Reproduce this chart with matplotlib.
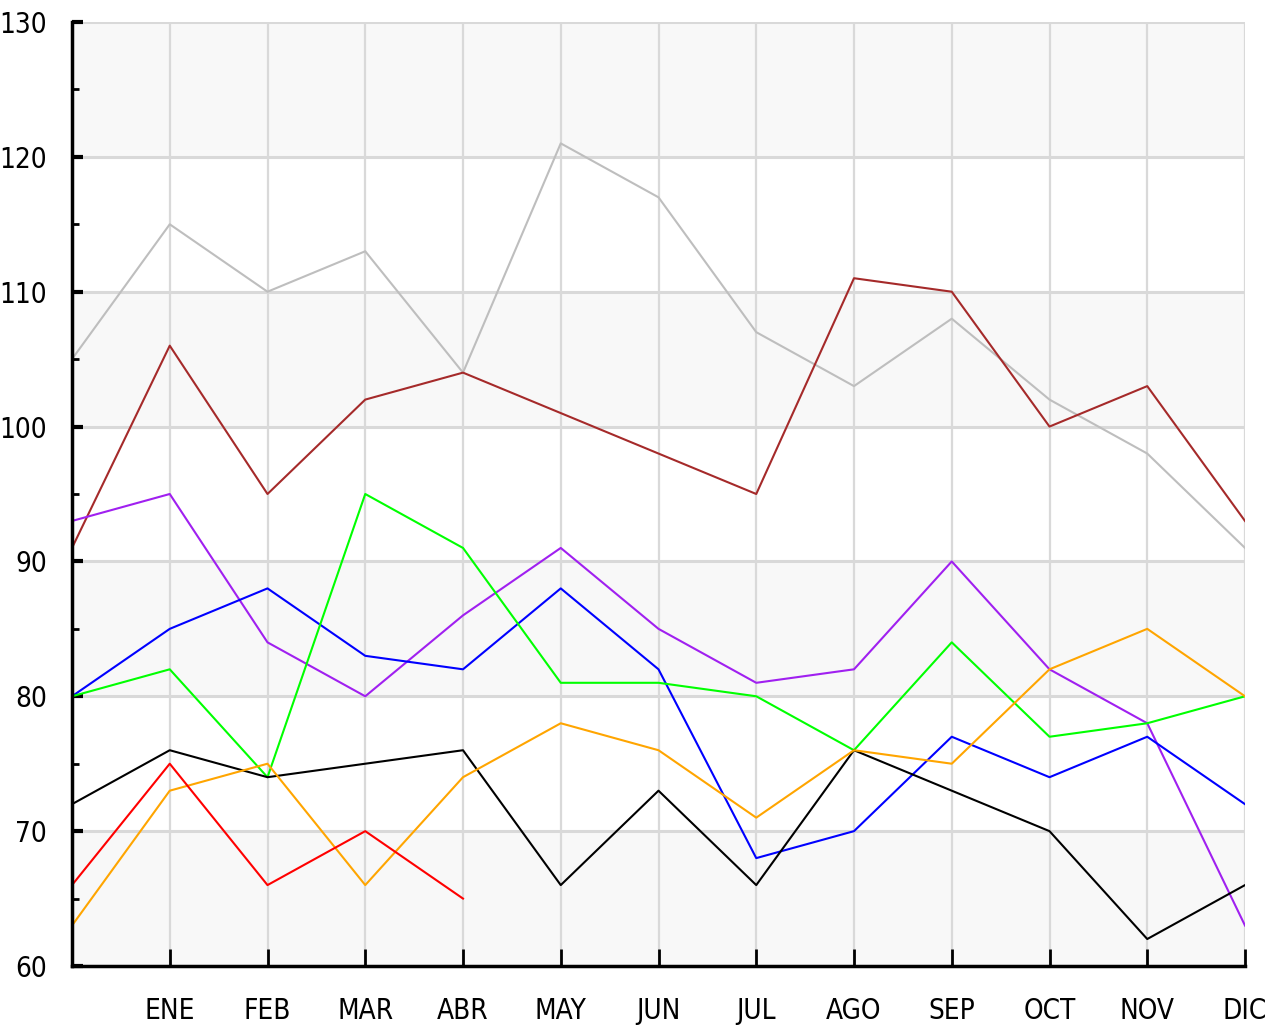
import matplotlib
matplotlib.use("Agg")
import matplotlib.pyplot as plt
from matplotlib import font_manager
import numpy as np
from matplotlib.ticker import MultipleLocator

# --- Data ---
MONTHS = ["", "ENE", "FEB", "MAR", "ABR", "MAY", "JUN", "JUL", "AGO", "SEP", "OCT", "NOV", "DIC"]

gray_vals = [105, 115, 110, 113, 104, 121, 117, 107, 103, 108, 102, 98, 91]
brown_vals = [91, 106, 95, 102, 104, 101, 98, 95, 111, 110, 100, 103, 93]
purple_vals = [93, 95, 84, 80, 86, 91, 85, 81, 82, 90, 82, 78, 63]
blue_vals = [80, 85, 88, 83, 82, 88, 82, 68, 70, 77, 74, 77, 72]
green_vals = [80, 82, 74, 95, 91, 81, 81, 80, 76, 84, 77, 78, 80]
black_vals = [72, 76, 74, 75, 76, 66, 73, 66, 76, 73, 70, 62, 66]
orange_vals = [63, 73, 75, 66, 74, 78, 76, 71, 76, 75, 82, 85, 80]
red_vals = [66, 75, 66, 70, 65]

SERIES = [
    (gray_vals, "#bebebe"),
    (brown_vals, "#a52a2a"),
    (purple_vals, "#a020f0"),
    (blue_vals, "#0000ff"),
    (green_vals, "#00ff00"),
    (black_vals, "#000000"),
    (orange_vals, "#ffa500"),
    (red_vals, "#ff0000"),
]

Y_MIN, Y_MAX = 60, 130

# narrow font if one is around, otherwise a smaller DejaVu
names = {f.name for f in font_manager.fontManager.ttflist}
condensed = font_manager.findfont(
    font_manager.FontProperties(family="DejaVu Sans", stretch="condensed"))
if "Liberation Sans Narrow" in names:
    FONT = dict(family="Liberation Sans Narrow", fontsize=22)
elif "Condensed" in condensed:
    FONT = dict(family="DejaVu Sans", stretch="condensed", fontsize=20)
else:
    FONT = dict(family="DejaVu Sans", fontsize=17)

fig = plt.figure(figsize=(12.85, 10.25), dpi=100)
ax = fig.add_axes([72 / 1285, 59 / 1025, (1245 - 72) / 1285, (966 - 22) / 1025])

# alternating bands
for i, lo in enumerate(range(Y_MIN, Y_MAX, 10)):
    if i % 2 == 0:
        ax.axhspan(lo, lo + 10, color="#f8f8f8", zorder=0, lw=0)

# grid
for y in range(Y_MIN + 10, Y_MAX + 1, 10):
    ax.axhline(y, color="#d9d9d9", lw=2.2, zorder=1)
for x in range(1, len(MONTHS)):
    ax.axvline(x, color="#d9d9d9", lw=1.6, zorder=1)

# lines
for vals, color in SERIES:
    ax.plot(np.arange(len(vals)), vals, color=color, lw=1.5, zorder=3)

ax.set_xlim(0, len(MONTHS) - 1)
ax.set_ylim(Y_MIN, Y_MAX)

ax.set_xticks(np.arange(len(MONTHS)))
ax.set_xticklabels(MONTHS, **FONT)
y_ticks = np.arange(Y_MIN, Y_MAX + 1, 10)
ax.set_yticks(y_ticks)
ax.set_yticklabels([str(v) for v in y_ticks], **FONT)
ax.yaxis.set_minor_locator(MultipleLocator(5))
ax.set_ylim(Y_MIN, Y_MAX)

ax.tick_params(axis="x", direction="in", length=12, width=2, pad=22)
ax.tick_params(axis="y", which="major", direction="in", length=8, width=3, pad=18)
ax.tick_params(axis="y", which="minor", direction="in", length=5, width=2)

for side in ["top", "right"]:
    ax.spines[side].set_visible(False)
for side in ["left", "bottom"]:
    ax.spines[side].set_linewidth(2.5)
    ax.spines[side].set_zorder(4)

fig.savefig("out.png", dpi=100)
